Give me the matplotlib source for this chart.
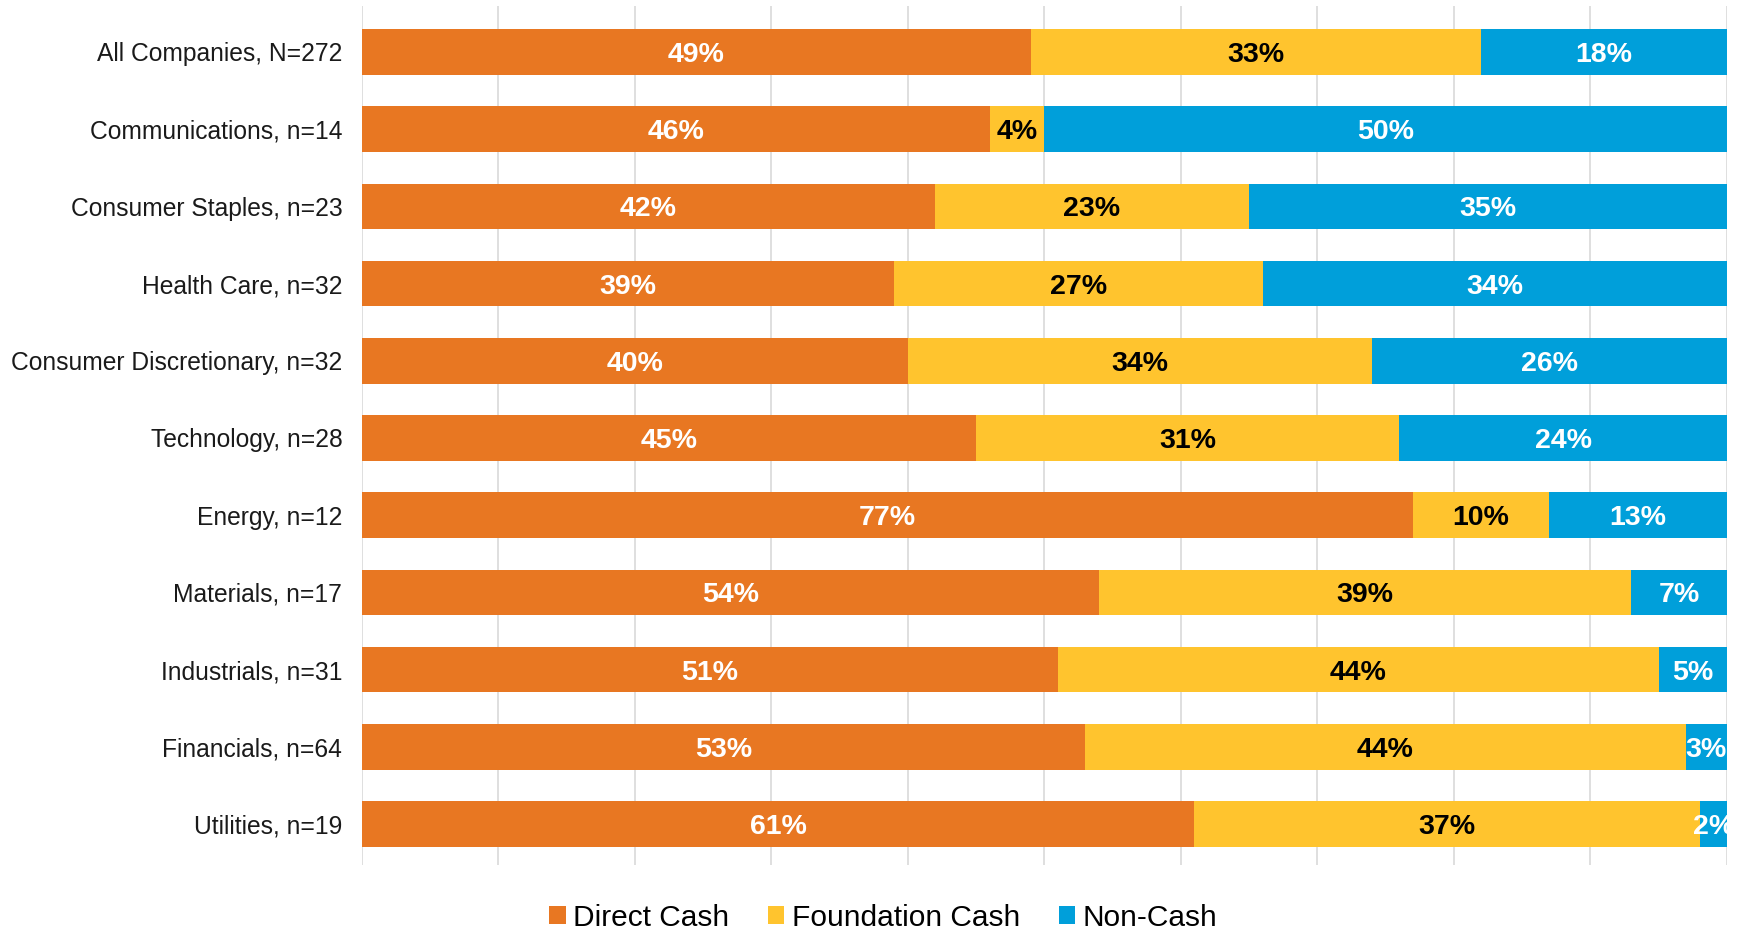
import numpy as np
import matplotlib.pyplot as plt

plt.rcParams['font.family'] = ['Liberation Sans', 'DejaVu Sans']

categories = ['All Companies, N=272', 'Communications, n=14', 'Consumer Staples, n=23',
              'Health Care, n=32', 'Consumer Discretionary, n=32', 'Technology, n=28',
              'Energy, n=12', 'Materials, n=17', 'Industrials, n=31',
              'Financials, n=64', 'Utilities, n=19']
direct_cash = [49, 46, 42, 39, 40, 45, 77, 54, 51, 53, 61]
foundation_cash = [33, 4, 23, 27, 34, 31, 10, 39, 44, 44, 37]
non_cash = [18, 50, 35, 34, 26, 24, 13, 7, 5, 3, 2]

series = [('Direct Cash', direct_cash, '#E87722', 'white'),
          ('Foundation Cash', foundation_cash, '#FFC42E', 'black'),
          ('Non-Cash', non_cash, '#009FDA', 'white')]

fig = plt.figure(figsize=(17.39, 9.31), dpi=100)
ax = fig.add_axes([0.208, 0.071, 0.785, 0.923])

y = np.arange(len(categories))
left = np.zeros(len(categories))
for name, vals, color, tcolor in series:
    vals = np.array(vals, dtype=float)
    ax.barh(y, vals, left=left, height=0.59, color=color, label=name, zorder=2)
    for yi, l, v in zip(y, left, vals):
        ax.text(l + v / 2, yi, f'{v:.0f}%', ha='center', va='center_baseline',
                color=tcolor, fontsize=20.5, fontweight='bold', zorder=3)
    left += vals

ax.set_xlim(0, 100)
ax.set_ylim(len(categories) - 0.47, -0.6)
ax.set_xticks(np.arange(0, 101, 10))
ax.xaxis.grid(True, color='#D9D9D9', linewidth=1.2, zorder=0)
ax.tick_params(axis='x', length=0, labelbottom=False)
ax.tick_params(axis='y', length=0, pad=14)
ax.set_yticks(y)
ax.set_yticklabels(categories, fontsize=17.7, color='#1a1a1a')
for s in ax.spines.values():
    s.set_visible(False)

fig.legend(loc='lower center', bbox_to_anchor=(0.508, -0.03), ncol=3, frameon=False,
           fontsize=21.5, handlelength=0.55, handleheight=0.55, handletextpad=0.25,
           columnspacing=1.3)

fig.savefig('out.png', dpi=100)
